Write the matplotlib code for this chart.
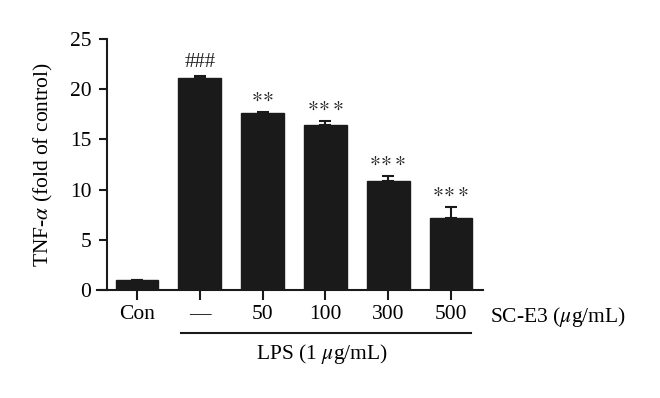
import numpy as np
import matplotlib.pyplot as plt

plt.rcParams['font.family'] = ['Liberation Serif', 'DejaVu Serif']
plt.rcParams['mathtext.fontset'] = 'stix'

groups = ['Con', '—', '50', '100', '300', '500']
tnf = [1.05, 21.1, 17.6, 16.4, 10.9, 7.2]
err = [0.0, 0.2, 0.15, 0.45, 0.45, 1.1]
marks = ['', '###', r'$\ast\!\ast$', r'$\ast\!\ast\!\ast$', r'$\ast\!\ast\!\ast$',
         r'$\ast\!\ast\!\ast$']

fig = plt.figure(figsize=(6.6, 3.98), dpi=100)
ax = fig.add_axes([97 / 660, 0.271, 386 / 660, 0.631])

x = np.arange(len(groups))
ax.bar(x, tnf, width=0.68, color='#1a1a1a', edgecolor='#1a1a1a', zorder=2)
ax.errorbar(x, tnf, yerr=[np.zeros(len(err)), err], fmt='none',
            ecolor='#1a1a1a', elinewidth=1.5, capsize=4, capthick=1.5, zorder=1)

for xi, v, e, m in zip(x, tnf, err, marks):
    if m:
        off = 0.45 if m == '###' else 0.5
        ax.text(xi, v + e + off, m, ha='center', va='bottom', fontsize=15,
                color='#222222')

ax.set_xlim(-0.637, 5.51)
ax.set_ylim(0, 25)
ax.spines['left'].set_position(('data', -0.482))
ax.set_yticks([0, 5, 10, 15, 20, 25])
ax.set_xticks(x)
ax.set_xticklabels(groups)
ax.tick_params(axis='both', labelsize=15.5, width=1.5, color='#1a1a1a')
ax.tick_params(axis='y', length=6, pad=5)
ax.tick_params(axis='x', length=7, pad=4)
ax.set_ylabel(r'TNF-$\alpha$ (fold of control)', fontsize=15.5, labelpad=11)

for s in ['top', 'right']:
    ax.spines[s].set_visible(False)
for s in ['left', 'bottom']:
    ax.spines[s].set_linewidth(1.5)
    ax.spines[s].set_color('#1a1a1a')

fig.text(490 / 660, 1 - 317 / 398, r'SC-E3 ($\mu$g/mL)', fontsize=15.5,
         va='center', ha='left')
fig.add_artist(plt.Line2D([181 / 660, 471 / 660], [1 - 333 / 398, 1 - 333 / 398],
                          color='#1a1a1a', lw=1.5))
fig.text(322 / 660, 1 - 354 / 398, r'LPS (1 $\mu$g/mL)', fontsize=15.5,
         ha='center', va='center')

fig.savefig('out.png', dpi=100)
